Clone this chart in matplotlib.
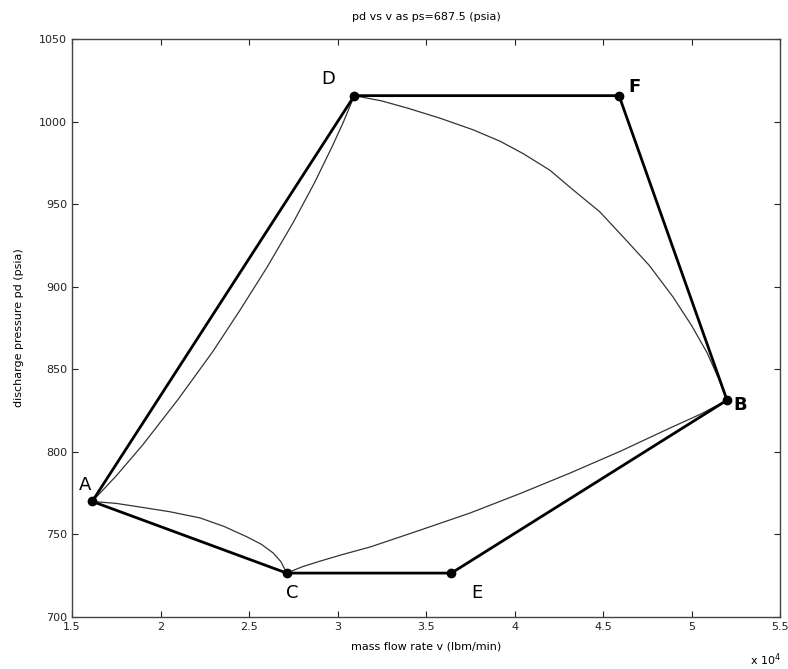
import numpy as np
import matplotlib
matplotlib.use('Agg')
import matplotlib.pyplot as plt

# corner points of the operating envelope (v in 1e4 lbm/min, pd in psia)
point_names = ['A', 'C', 'E', 'B', 'F', 'D']
point_v = [1.614, 2.713, 3.643, 5.200, 4.590, 3.095]
point_pd = [770.0, 726.6, 726.6, 831.3, 1015.7, 1015.7]

# thin curves between the corner points
curve_ad_v = [1.614, 1.75, 1.90, 2.10, 2.297, 2.45, 2.60, 2.75, 2.87, 2.97, 3.03, 3.095]
curve_ad_pd = [770.0, 785.5, 804.3, 831.9, 861.0, 886.0, 911.5, 939.0, 963.0, 985.0, 999.0, 1015.7]

curve_db_v = [3.095, 3.25, 3.40, 3.58, 3.766, 3.92, 4.05, 4.20, 4.331, 4.48,
              4.613, 4.76, 4.895, 5.00, 5.088, 5.15, 5.200]
curve_db_pd = [1015.7, 1012.5, 1008.0, 1002.0, 995.0, 988.0, 980.5, 970.5, 958.6, 945.5,
               930.2, 913.0, 893.8, 876.5, 859.9, 845.0, 831.3]

curve_cb_v = [2.713, 2.80, 2.90, 3.03, 3.184, 3.45, 3.749, 4.03, 4.314, 4.60, 4.879, 5.05, 5.200]
curve_cb_pd = [726.6, 730.4, 733.8, 737.9, 742.4, 752.0, 763.0, 774.7, 787.2, 800.5, 814.5, 822.8, 831.3]

curve_ac_v = [1.614, 1.75, 1.884, 2.05, 2.223, 2.36, 2.489, 2.57, 2.636, 2.68, 2.713]
curve_ac_pd = [770.0, 768.8, 766.6, 763.8, 760.0, 754.8, 748.5, 744.0, 738.8, 733.5, 726.6]

fig = plt.figure(figsize=(7.88, 6.69), dpi=100)
ax = fig.add_axes([0.0914, 0.0777, 0.8986, 0.864])

thin = dict(color='#333333', lw=0.9)
ax.plot(curve_ad_v, curve_ad_pd, **thin)
ax.plot(curve_db_v, curve_db_pd, **thin)
ax.plot(curve_cb_v, curve_cb_pd, **thin)
ax.plot(curve_ac_v, curve_ac_pd, **thin)

# closed polygon A-C-E-B-F-D-A
poly_v = point_v + point_v[:1]
poly_pd = point_pd + point_pd[:1]
ax.plot(poly_v, poly_pd, color='black', lw=2.0)
ax.plot(point_v, point_pd, 'o', color='black', ms=6)

label_offsets = {'A': (-0.04, 10), 'C': (0.03, -12), 'E': (0.145, -12),
                 'B': (0.074, -3), 'F': (0.085, 5), 'D': (-0.15, 10)}
label_weight = {'A': 'normal', 'C': 'normal', 'E': 'normal',
                'B': 'bold', 'F': 'bold', 'D': 'normal'}
for name, v, pd in zip(point_names, point_v, point_pd):
    dx, dy = label_offsets[name]
    ax.text(v + dx, pd + dy, name, fontsize=13, ha='center', va='center',
            fontweight=label_weight[name])

ax.set_xlim(1.5, 5.5)
ax.set_ylim(700, 1050)
ax.set_xticks(np.arange(1.5, 5.51, 0.5))
ax.set_xticklabels(['1.5', '2', '2.5', '3', '3.5', '4', '4.5', '5', '5.5'])
ax.set_yticks(np.arange(700, 1051, 50))
ax.tick_params(direction='in', top=True, right=True, labelsize=8, length=4,
               colors='#222222')
for spine in ax.spines.values():
    spine.set_color('#444444')
    spine.set_linewidth(1.0)

ax.set_title('pd vs v as ps=687.5 (psia)', fontsize=8, pad=14)
ax.set_xlabel('mass flow rate v (lbm/min)', fontsize=8, labelpad=7)
ax.set_ylabel('discharge pressure pd (psia)', fontsize=8, labelpad=11)
fig.text(0.972, 0.002, r'x 10$^4$', fontsize=8, ha='center', va='bottom')

fig.savefig('out.png', dpi=100)
